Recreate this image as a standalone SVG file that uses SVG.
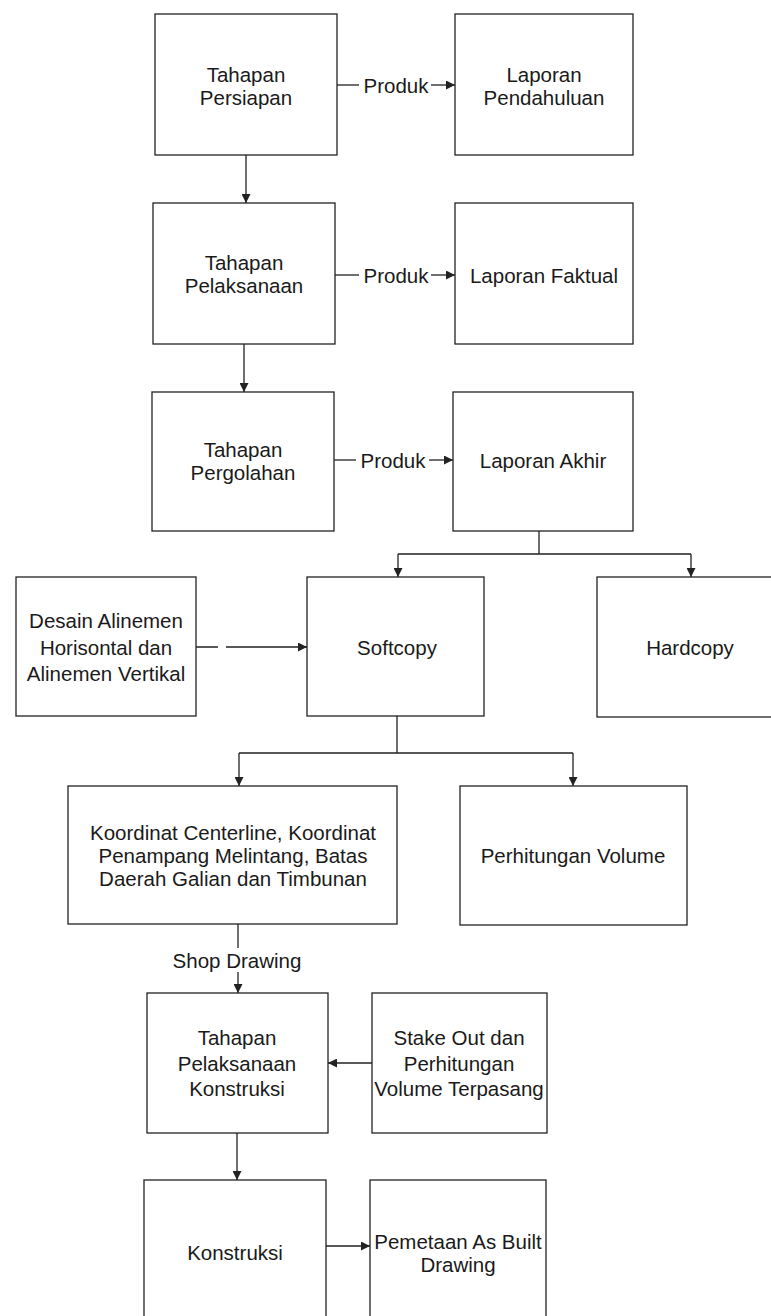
<svg xmlns="http://www.w3.org/2000/svg" width="771" height="1316" viewBox="0 0 771 1316">
<style>
.box{fill:#fff;stroke:#222;stroke-width:1.3}
text{font-family:"Liberation Sans",Arial,sans-serif;font-size:20.5px;fill:#1a1a1a;text-anchor:middle;dominant-baseline:central}
.c{fill:none;stroke:#222;stroke-width:1.3}
</style>
<defs>
<marker id="ah" viewBox="0 0 10 10" refX="10" refY="5" markerWidth="9" markerHeight="9" markerUnits="userSpaceOnUse" orient="auto">
<path d="M0,0 L10,5 L0,10 Z" fill="#222"/>
</marker>
</defs>
<rect width="771" height="1316" fill="#fff"/>
<g id="connectors">
<line class="c" x1="337" y1="85" x2="359" y2="85"/>
<line class="c" x1="431" y1="85" x2="455" y2="85" marker-end="url(#ah)"/>
<text x="396" y="85">Produk</text>
<line class="c" x1="335" y1="275" x2="359" y2="275"/>
<line class="c" x1="431" y1="275" x2="455" y2="275" marker-end="url(#ah)"/>
<text x="396" y="275">Produk</text>
<line class="c" x1="334" y1="460" x2="356" y2="460"/>
<line class="c" x1="429" y1="460" x2="453" y2="460" marker-end="url(#ah)"/>
<text x="393" y="460">Produk</text>
<line class="c" x1="246" y1="155" x2="246" y2="203" marker-end="url(#ah)"/>
<line class="c" x1="244" y1="344" x2="244" y2="392" marker-end="url(#ah)"/>
<path class="c" d="M539,531 V554 M398,554 H691"/>
<line class="c" x1="398" y1="554" x2="398" y2="577" marker-end="url(#ah)"/>
<line class="c" x1="691" y1="554" x2="691" y2="577" marker-end="url(#ah)"/>
<line class="c" x1="196" y1="647" x2="307" y2="647" stroke-dasharray="22 8 200 8" marker-end="url(#ah)"/>
<path class="c" d="M397,716 V753 M239,753 H573"/>
<line class="c" x1="239" y1="753" x2="239" y2="786" marker-end="url(#ah)"/>
<line class="c" x1="573" y1="753" x2="573" y2="786" marker-end="url(#ah)"/>
<line class="c" x1="238" y1="924" x2="238" y2="948"/>
<text x="237" y="960">Shop Drawing</text>
<line class="c" x1="238" y1="972" x2="238" y2="993" marker-end="url(#ah)"/>
<line class="c" x1="372" y1="1063" x2="328" y2="1063" marker-end="url(#ah)"/>
<line class="c" x1="237" y1="1133" x2="237" y2="1180" marker-end="url(#ah)"/>
<line class="c" x1="326" y1="1246" x2="370" y2="1246" marker-end="url(#ah)"/>
</g>
<g id="n-persiapan"><rect class="box" x="155" y="14" width="182" height="141"/><text x="246" y="74">Tahapan</text><text x="246" y="97">Persiapan</text></g>
<g id="n-pendahuluan"><rect class="box" x="455" y="14" width="178" height="141"/><text x="544" y="74">Laporan</text><text x="544" y="97">Pendahuluan</text></g>
<g id="n-pelaksanaan"><rect class="box" x="153" y="203" width="182" height="141"/><text x="244" y="262">Tahapan</text><text x="244" y="285">Pelaksanaan</text></g>
<g id="n-faktual"><rect class="box" x="455" y="203" width="178" height="141"/><text x="544" y="275">Laporan Faktual</text></g>
<g id="n-pergolahan"><rect class="box" x="152" y="392" width="182" height="139"/><text x="243" y="449">Tahapan</text><text x="243" y="472">Pergolahan</text></g>
<g id="n-akhir"><rect class="box" x="453" y="392" width="180" height="139"/><text x="543" y="460">Laporan Akhir</text></g>
<g id="n-desain"><rect class="box" x="16" y="577" width="180" height="139"/><text x="106" y="620">Desain Alinemen</text><text x="106" y="647">Horisontal dan</text><text x="106" y="673">Alinemen Vertikal</text></g>
<g id="n-softcopy"><rect class="box" x="307" y="577" width="177" height="139"/><text x="397" y="647">Softcopy</text></g>
<g id="n-hardcopy"><rect class="box" x="597" y="577" width="185" height="140"/><text x="690" y="647">Hardcopy</text></g>
<g id="n-koordinat"><rect class="box" x="68" y="786" width="329" height="138"/><text x="233" y="832">Koordinat Centerline, Koordinat</text><text x="233" y="855">Penampang Melintang, Batas</text><text x="233" y="878">Daerah Galian dan Timbunan</text></g>
<g id="n-volume"><rect class="box" x="460" y="786" width="227" height="139"/><text x="573" y="855">Perhitungan Volume</text></g>
<g id="n-tahap-konstruksi"><rect class="box" x="147" y="993" width="181" height="140"/><text x="237" y="1037">Tahapan</text><text x="237" y="1063">Pelaksanaan</text><text x="237" y="1088">Konstruksi</text></g>
<g id="n-stakeout"><rect class="box" x="372" y="993" width="175" height="140"/><text x="459" y="1037">Stake Out dan</text><text x="459" y="1063">Perhitungan</text><text x="459" y="1088">Volume Terpasang</text></g>
<g id="n-konstruksi"><rect class="box" x="144" y="1180" width="182" height="150"/><text x="235" y="1252">Konstruksi</text></g>
<g id="n-pemetaan"><rect class="box" x="370" y="1180" width="176" height="150"/><text x="458" y="1241">Pemetaan As Built</text><text x="458" y="1264">Drawing</text></g>
</svg>
